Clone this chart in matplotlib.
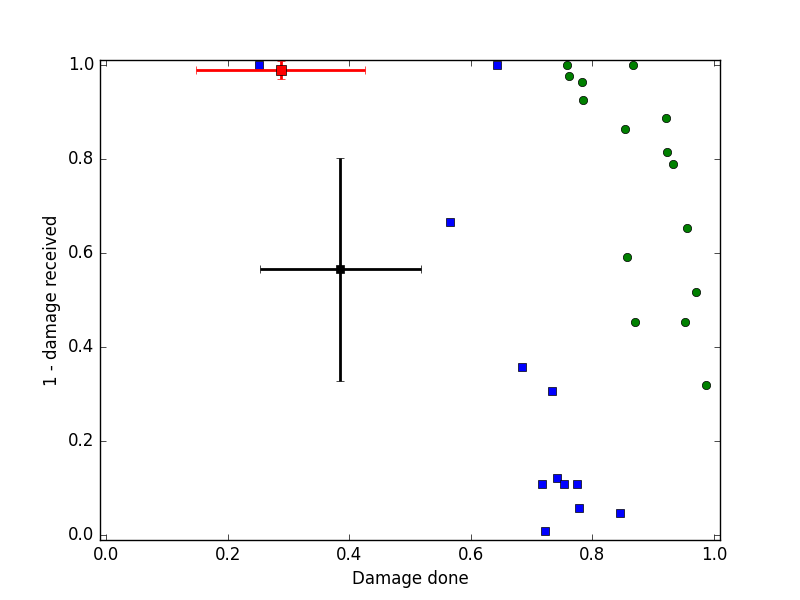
import matplotlib
matplotlib.use("Agg")
import matplotlib.pyplot as plt

# Blue squares
blue_x = [0.252, 0.643, 0.565, 0.685, 0.733, 0.717, 0.742, 0.753, 0.775, 0.778, 0.846, 0.722]
blue_y = [1.000, 1.000, 0.666, 0.358, 0.307, 0.110, 0.121, 0.110, 0.108, 0.059, 0.048, 0.010]

# Green circles
green_x = [0.758, 0.867, 0.762, 0.783, 0.785, 0.921, 0.854, 0.923, 0.933,
           0.956, 0.857, 0.971, 0.870, 0.953, 0.987]
green_y = [1.000, 1.000, 0.976, 0.963, 0.925, 0.886, 0.863, 0.815, 0.789,
           0.653, 0.591, 0.516, 0.453, 0.453, 0.319]

# Mean points with errors
black_mean = (0.3855, 0.565)
black_err = (0.133, 0.237)
red_mean = (0.287, 0.988)
red_err = (0.139, 0.019)

plt.style.use('classic')
fig, ax = plt.subplots(figsize=(8, 6))

ax.plot(blue_x, blue_y, 's', color='blue', markersize=6, markeredgecolor='black', markeredgewidth=0.5)
ax.plot(green_x, green_y, 'o', color='green', markersize=6, markeredgecolor='black', markeredgewidth=0.5)

ax.errorbar([black_mean[0]], [black_mean[1]], xerr=[black_err[0]], yerr=[black_err[1]],
            fmt='s', color='black', ecolor='black', elinewidth=2, markersize=6, capsize=3)
ax.errorbar([red_mean[0]], [red_mean[1]], xerr=[red_err[0]], yerr=[red_err[1]],
            fmt='s', color='red', ecolor='red', elinewidth=2, markersize=7,
            markeredgecolor='black', markeredgewidth=0.5, capsize=3)

ax.set_xlim(-0.01, 1.01)
ax.set_ylim(-0.01, 1.01)
ax.set_xlabel('Damage done')
ax.set_ylabel('1 - damage received')

fig.savefig('out.png', dpi=100, facecolor='white')
